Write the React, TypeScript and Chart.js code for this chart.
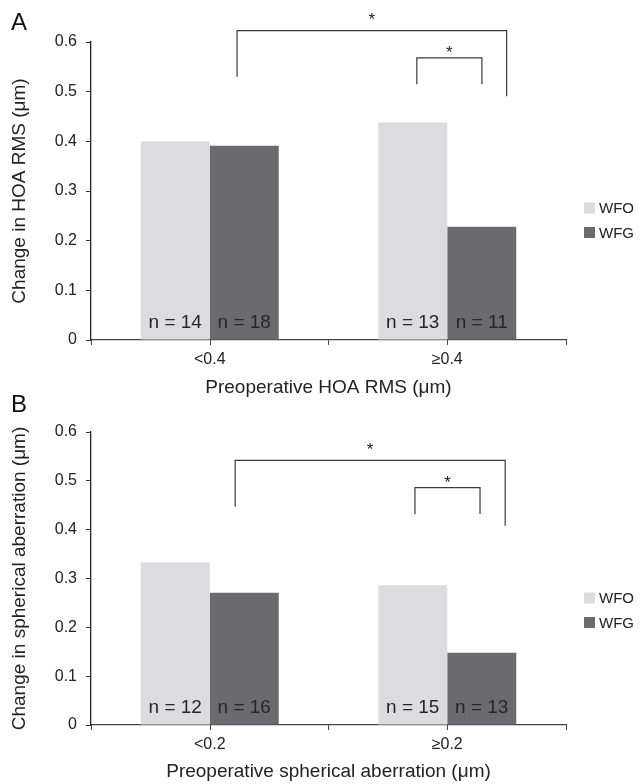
import React, { useEffect, useRef } from 'react';
import { Chart, registerables } from 'chart.js';

Chart.register(...registerables);

const FONT = '"Liberation Sans", Arial, Helvetica, sans-serif';

// ---- data ----
const seriesLabels = ['WFO', 'WFG'];
const seriesColors = ['#dcdcde', '#6b6b6f'];

const categoriesA = ['<0.4', '\u22650.4'];
const wfoA = [0.4, 0.438];
const wfgA = [0.391, 0.228];
const nWfoA = [14, 13];
const nWfgA = [18, 11];

const categoriesB = ['<0.2', '\u22650.2'];
const wfoB = [0.333, 0.286];
const wfgB = [0.271, 0.148];
const nWfoB = [12, 15];
const nWfgB = [16, 13];

const yTickLabels = ['0', '0.1', '0.2', '0.3', '0.4', '0.5', '0.6'];

// significance brackets (x in category-index units, y in data units)
const bracketsA = [
  { from: 0.115, to: 1.25, top: 0.623, endFrom: 0.53, endTo: 0.491, star: 0.653 },
  { from: 0.872, to: 1.146, top: 0.568, endFrom: 0.515, endTo: 0.515, star: 0.587 },
];
const bracketsB = [
  { from: 0.107, to: 1.244, top: 0.542, endFrom: 0.447, endTo: 0.408, star: 0.572 },
  { from: 0.864, to: 1.138, top: 0.486, endFrom: 0.432, endTo: 0.432, star: 0.505 },
];

type Panel = {
  letter: string;
  letterY: number;
  categories: string[];
  wfo: number[];
  wfg: number[];
  nWfo: number[];
  nWfg: number[];
  brackets: typeof bracketsA;
  yTitle: string;
  xTitle: string;
  height: number;
  top: number;
  chartTop: number;
  xAxisHeight: number;
};

const panels: Panel[] = [
  {
    letter: 'A', letterY: 30, categories: categoriesA, wfo: wfoA, wfg: wfgA, nWfo: nWfoA, nWfg: nWfgA,
    brackets: bracketsA, yTitle: 'Change in HOA RMS (\u03bcm)', xTitle: 'Preoperative HOA RMS (\u03bcm)',
    height: 400, top: 0, chartTop: 42, xAxisHeight: 60,
  },
  {
    letter: 'B', letterY: 21.5, categories: categoriesB, wfo: wfoB, wfg: wfgB, nWfo: nWfoB, nWfg: nWfgB,
    brackets: bracketsB, yTitle: 'Change in spherical aberration (\u03bcm)', xTitle: 'Preoperative spherical aberration (\u03bcm)',
    height: 394, top: 390, chartTop: 42, xAxisHeight: 59,
  },
];

function makePlugin(p: Panel) {
  return {
    id: 'panelExtras' + p.letter,
    afterDraw(chart: any) {
      const ctx = chart.ctx as CanvasRenderingContext2D;
      const xs = chart.scales.x;
      const ys = chart.scales.y;
      const area = chart.chartArea;
      ctx.save();

      // center tick marks on x axis
      ctx.strokeStyle = '#444';
      ctx.lineWidth = 1;
      p.categories.forEach((_, i) => {
        const x = Math.round(xs.getPixelForValue(i)) + 0.5;
        ctx.beginPath();
        ctx.moveTo(x, area.bottom);
        ctx.lineTo(x, area.bottom + 5);
        ctx.stroke();
      });

      // n labels
      const counts = [p.nWfo, p.nWfg];
      ctx.fillStyle = '#262626';
      ctx.font = `19px ${FONT}`;
      ctx.textAlign = 'center';
      ctx.textBaseline = 'middle';
      counts.forEach((arr, di) => {
        const meta = chart.getDatasetMeta(di);
        meta.data.forEach((el: any, i: number) => {
          ctx.fillText(`n = ${arr[i]}`, el.x, el.base - 17);
        });
      });

      // brackets
      ctx.strokeStyle = '#3a3a3a';
      ctx.lineWidth = 1.2;
      ctx.font = `17px ${FONT}`;
      ctx.textBaseline = 'alphabetic';
      p.brackets.forEach((b) => {
        const x1 = xs.getPixelForValue(b.from);
        const x2 = xs.getPixelForValue(b.to);
        const yt = ys.getPixelForValue(b.top);
        ctx.beginPath();
        ctx.moveTo(x1, ys.getPixelForValue(b.endFrom));
        ctx.lineTo(x1, yt);
        ctx.lineTo(x2, yt);
        ctx.lineTo(x2, ys.getPixelForValue(b.endTo));
        ctx.stroke();
        ctx.fillStyle = '#222';
        ctx.fillText('*', (x1 + x2) / 2, ys.getPixelForValue(b.star) + 9.5);
      });

      // legend
      ctx.font = `15px ${FONT}`;
      ctx.textAlign = 'left';
      ctx.textBaseline = 'middle';
      seriesLabels.forEach((lab, i) => {
        const cy = area.top + 166 + i * 24.5;
        const sx = area.right + 18;
        ctx.fillStyle = seriesColors[i];
        ctx.fillRect(sx, cy - 5.5, 11, 11);
        ctx.fillStyle = '#222';
        ctx.fillText(lab, sx + 15, cy + 1);
      });

      // panel letter
      ctx.font = `24px ${FONT}`;
      ctx.fillStyle = '#111';
      ctx.textAlign = 'left';
      ctx.textBaseline = 'alphabetic';
      ctx.fillText(p.letter, 11, p.letterY);

      ctx.restore();
    },
  };
}

function PanelChart({ p }: { p: Panel }) {
  const ref = useRef<HTMLCanvasElement | null>(null);
  useEffect(() => {
    if (!ref.current) return;
    const chart = new Chart(ref.current, {
      type: 'bar',
      data: {
        labels: p.categories,
        datasets: [
          { label: seriesLabels[0], data: p.wfo, backgroundColor: seriesColors[0], borderWidth: 0, categoryPercentage: 0.581, barPercentage: 1 },
          { label: seriesLabels[1], data: p.wfg, backgroundColor: seriesColors[1], borderWidth: 0, categoryPercentage: 0.581, barPercentage: 1 },
        ],
      },
      options: {
        responsive: false,
        animation: false,
        layout: { padding: { left: 0, right: 74, top: p.chartTop, bottom: 0 } },
        plugins: { legend: { display: false }, tooltip: { enabled: false }, title: { display: false } },
        scales: {
          x: {
            offset: true,
            grid: { display: true, offset: true, drawOnChartArea: false, drawTicks: true, tickLength: 5, color: '#444', lineWidth: 1 },
            border: { display: true, color: '#444', width: 1.2 },
            ticks: { color: '#222', font: { family: FONT, size: 16 }, padding: 5 },
            title: { display: true, text: p.xTitle, color: '#222', font: { family: FONT, size: 19 }, padding: { top: 0, bottom: 1 } },
            afterFit: (s: any) => { s.height = p.xAxisHeight; },
          },
          y: {
            min: 0,
            max: 0.6,
            ticks: {
              stepSize: 0.1,
              color: '#222',
              font: { family: FONT, size: 16 },
              padding: 9,
              callback: (_v: any, i: number) => yTickLabels[i],
            },
            grid: { display: true, drawOnChartArea: false, drawTicks: true, tickLength: 5, color: '#333', lineWidth: 1 },
            border: { display: true, color: '#222', width: 1.3 },
            title: { display: true, text: p.yTitle, color: '#222', font: { family: FONT, size: 19 }, padding: { top: 8, bottom: 0 } },
            afterFit: (s: any) => { s.width = 91; },
          },
        },
      },
      plugins: [makePlugin(p)],
    } as any);
    return () => chart.destroy();
  }, [p]);
  return (
    <canvas
      ref={ref}
      width={640}
      height={p.height}
      style={{ position: 'absolute', left: 0, top: p.top, width: 640, height: p.height }}
    />
  );
}

export default function App() {
  return (
    <div style={{ position: 'absolute', left: 0, top: 0, width: 640, height: 784, background: '#fff', overflow: 'hidden' }}>
      {panels.map((p) => (
        <PanelChart key={p.letter} p={p} />
      ))}
    </div>
  );
}
